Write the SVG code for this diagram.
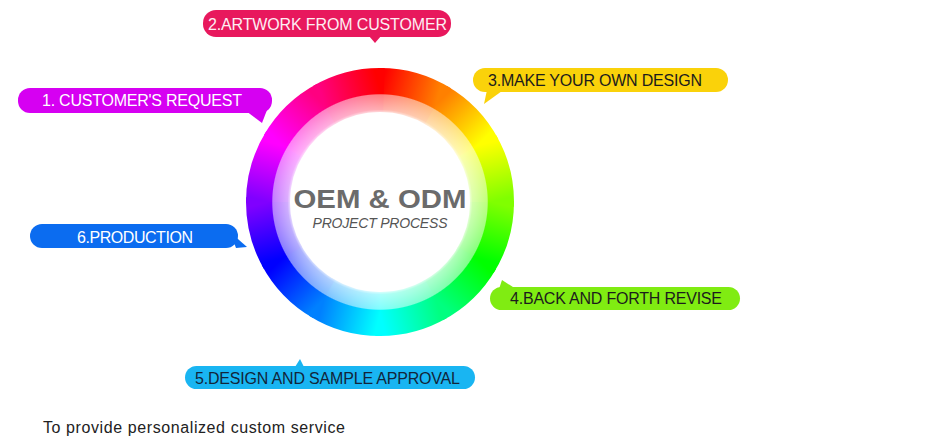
<svg xmlns="http://www.w3.org/2000/svg" width="941" height="444" viewBox="0 0 941 444">
<style>
.seg{fill:none;stroke-width:44}
.lbl{font-family:"Liberation Sans",Arial,sans-serif;font-size:16px}
.w{fill:#ffffff}
.d{fill:#1c1c1c}
</style>
<defs>
<linearGradient id="g0" gradientUnits="userSpaceOnUse" x1="380" y1="90" x2="436" y2="105.01"><stop offset="0" stop-color="#ff0000"/><stop offset="1" stop-color="#ff8000"/></linearGradient>
<linearGradient id="g1" gradientUnits="userSpaceOnUse" x1="436" y1="105.01" x2="476.99" y2="146"><stop offset="0" stop-color="#ff8000"/><stop offset="1" stop-color="#ffff00"/></linearGradient>
<linearGradient id="g2" gradientUnits="userSpaceOnUse" x1="476.99" y1="146" x2="492" y2="202"><stop offset="0" stop-color="#ffff00"/><stop offset="1" stop-color="#80ff00"/></linearGradient>
<linearGradient id="g3" gradientUnits="userSpaceOnUse" x1="492" y1="202" x2="476.99" y2="258"><stop offset="0" stop-color="#80ff00"/><stop offset="1" stop-color="#00ff00"/></linearGradient>
<linearGradient id="g4" gradientUnits="userSpaceOnUse" x1="476.99" y1="258" x2="436" y2="298.99"><stop offset="0" stop-color="#00ff00"/><stop offset="1" stop-color="#00ff80"/></linearGradient>
<linearGradient id="g5" gradientUnits="userSpaceOnUse" x1="436" y1="298.99" x2="380" y2="314"><stop offset="0" stop-color="#00ff80"/><stop offset="1" stop-color="#00ffff"/></linearGradient>
<linearGradient id="g6" gradientUnits="userSpaceOnUse" x1="380" y1="314" x2="324" y2="298.99"><stop offset="0" stop-color="#00ffff"/><stop offset="1" stop-color="#0080ff"/></linearGradient>
<linearGradient id="g7" gradientUnits="userSpaceOnUse" x1="324" y1="298.99" x2="283.01" y2="258"><stop offset="0" stop-color="#0080ff"/><stop offset="1" stop-color="#0000ff"/></linearGradient>
<linearGradient id="g8" gradientUnits="userSpaceOnUse" x1="283.01" y1="258" x2="268" y2="202"><stop offset="0" stop-color="#0000ff"/><stop offset="1" stop-color="#8000ff"/></linearGradient>
<linearGradient id="g9" gradientUnits="userSpaceOnUse" x1="268" y1="202" x2="283.01" y2="146"><stop offset="0" stop-color="#8000ff"/><stop offset="1" stop-color="#ff00ff"/></linearGradient>
<linearGradient id="g10" gradientUnits="userSpaceOnUse" x1="283.01" y1="146" x2="324" y2="105.01"><stop offset="0" stop-color="#ff00ff"/><stop offset="1" stop-color="#ff0080"/></linearGradient>
<linearGradient id="g11" gradientUnits="userSpaceOnUse" x1="324" y1="105.01" x2="380" y2="90"><stop offset="0" stop-color="#ff0080"/><stop offset="1" stop-color="#ff0000"/></linearGradient>
<radialGradient id="fade" gradientUnits="userSpaceOnUse" cx="380" cy="202" r="134">
<stop offset="0.655" stop-color="#fff" stop-opacity="1"/>
<stop offset="0.69" stop-color="#fff" stop-opacity="0.68"/>
<stop offset="0.80" stop-color="#fff" stop-opacity="0.5"/>
<stop offset="0.808" stop-color="#fff" stop-opacity="0"/>
<stop offset="1" stop-color="#fff" stop-opacity="0"/>
</radialGradient>
</defs>
<rect width="941" height="444" fill="#ffffff"/>
<g id="wheel">
<path class="seg" stroke="url(#g0)" d="M380 90 A112 112 0 0 1 439.35 107.02"/>
<path class="seg" stroke="url(#g1)" d="M436 105.01 A112 112 0 0 1 478.88 149.42"/>
<path class="seg" stroke="url(#g2)" d="M476.99 146 A112 112 0 0 1 491.93 205.91"/>
<path class="seg" stroke="url(#g3)" d="M492 202 A112 112 0 0 1 474.98 261.35"/>
<path class="seg" stroke="url(#g4)" d="M476.99 258 A112 112 0 0 1 432.58 300.88"/>
<path class="seg" stroke="url(#g5)" d="M436 298.99 A112 112 0 0 1 376.09 313.93"/>
<path class="seg" stroke="url(#g6)" d="M380 314 A112 112 0 0 1 320.65 296.98"/>
<path class="seg" stroke="url(#g7)" d="M324 298.99 A112 112 0 0 1 281.12 254.58"/>
<path class="seg" stroke="url(#g8)" d="M283.01 258 A112 112 0 0 1 268.07 198.09"/>
<path class="seg" stroke="url(#g9)" d="M268 202 A112 112 0 0 1 285.02 142.65"/>
<path class="seg" stroke="url(#g10)" d="M283.01 146 A112 112 0 0 1 327.42 103.12"/>
<path class="seg" stroke="url(#g11)" d="M324 105.01 A112 112 0 0 1 383.91 90.07"/>
<circle cx="380" cy="202" r="135" fill="url(#fade)"/>
<text x="380" y="207.5" text-anchor="middle" font-family="Liberation Sans,Arial,sans-serif" font-weight="bold" font-size="26.5" fill="#6b6b6b" textLength="173" lengthAdjust="spacingAndGlyphs">OEM &amp; ODM</text>
<text x="380" y="227.5" text-anchor="middle" font-family="Liberation Sans,Arial,sans-serif" font-style="italic" font-size="14" fill="#555555" textLength="135">PROJECT PROCESS</text>
</g>
<g id="step1">
<rect x="18" y="88" width="254" height="25" rx="12" fill="#d600f2"/>
<path d="M246 111 L267 110 L262 123 Z" fill="#d600f2"/>
<text class="lbl w" x="42" y="106" textLength="200">1. CUSTOMER'S REQUEST</text>
</g>
<g id="step2">
<rect x="203" y="10" width="248" height="27" rx="13" fill="#e8185d"/>
<path d="M369 36 L381 36 L375 43 Z" fill="#e8185d"/>
<text class="lbl" fill="#fdeef3" x="208" y="30" font-size="16.5" textLength="239">2.ARTWORK FROM CUSTOMER</text>
</g>
<g id="step3">
<rect x="473" y="68" width="255" height="24" rx="12" fill="#fad20a"/>
<path d="M487 90 L502 91 L484 104 Z" fill="#fad20a"/>
<text class="lbl d" x="488" y="86" textLength="214">3.MAKE YOUR OWN DESIGN</text>
</g>
<g id="step4">
<rect x="490" y="287" width="250" height="23" rx="11.5" fill="#80ec12"/>
<path d="M499 289 L516 289 L502 280 Z" fill="#80ec12"/>
<text class="lbl d" x="510" y="304" textLength="212">4.BACK AND FORTH REVISE</text>
</g>
<g id="step5">
<rect x="185" y="366" width="290" height="23" rx="11.5" fill="#19b5f2"/>
<path d="M295 367 L304 367 L300 359 Z" fill="#19b5f2"/>
<text class="lbl" fill="#12253a" x="195" y="383.5" textLength="265">5.DESIGN AND SAMPLE APPROVAL</text>
</g>
<g id="step6">
<rect x="30" y="224" width="208" height="24" rx="12" fill="#0b6cf0"/>
<path d="M230 232 L236 248 L247 247 Z" fill="#0b6cf0"/>
<text class="lbl w" x="77" y="242.5" textLength="116">6.PRODUCTION</text>
</g>
<g id="connectors"></g>
<text x="43" y="433" font-family="Liberation Sans,Arial,sans-serif" font-size="16" fill="#222222" textLength="302">To provide personalized custom service</text>
</svg>
